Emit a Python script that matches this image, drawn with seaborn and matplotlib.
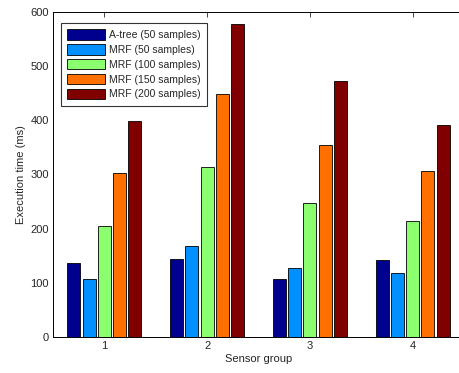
import pandas as pd
import matplotlib
matplotlib.use("Agg")
import matplotlib.pyplot as plt
import seaborn as sns

groups = ["1", "2", "3", "4"]
series = ["A-tree (50 samples)", "MRF (50 samples)", "MRF (100 samples)",
          "MRF (150 samples)", "MRF (200 samples)"]
atree_50 = [136, 144, 107, 142]
mrf_50 = [107, 168, 128, 119]
mrf_100 = [205, 314, 247, 214]
mrf_150 = [303, 449, 355, 307]
mrf_200 = [398, 578, 473, 392]
colors = ["#00008F", "#0090FF", "#8CFF70", "#FF7000", "#800000"]

rows = []
for name, vals in zip(series, [atree_50, mrf_50, mrf_100, mrf_150, mrf_200]):
    for g, v in zip(groups, vals):
        rows.append({"group": g, "series": name, "time": v})
df = pd.DataFrame(rows)

sns.set_style("white")
plt.rcParams["font.family"] = ["Liberation Sans", "DejaVu Sans"]

fig = plt.figure(figsize=(4.6, 3.73), dpi=100)
ax = fig.add_axes([53 / 460, 36 / 373, 411 / 460, 325 / 373])
sns.barplot(data=df, x="group", y="time", hue="series", palette=colors,
            saturation=1, width=0.74, gap=0.15, edgecolor="black",
            linewidth=0.6, ax=ax)

ax.set_xlim(-0.5, 3.5)
ax.set_ylim(0, 600)
ax.set_yticks(range(0, 601, 100))
ax.set_xlabel("Sensor group", fontsize=8, labelpad=2)
ax.set_ylabel("Execution time (ms)", fontsize=8, labelpad=3)
ax.tick_params(direction="in", length=3.5, labelsize=8, top=True, right=True,
               width=0.6, pad=3)
for s in ax.spines.values():
    s.set_color("black")
    s.set_linewidth(0.7)

leg = ax.legend(loc="upper left", bbox_to_anchor=(0.019, 0.966),
                borderaxespad=0, fontsize=7.5, frameon=True, fancybox=False,
                edgecolor="black", handlelength=3.65, handleheight=1.15,
                labelspacing=0.4, handletextpad=0.4, borderpad=0.6)
leg.get_frame().set_linewidth(0.8)

fig.savefig("out.png", dpi=100)
